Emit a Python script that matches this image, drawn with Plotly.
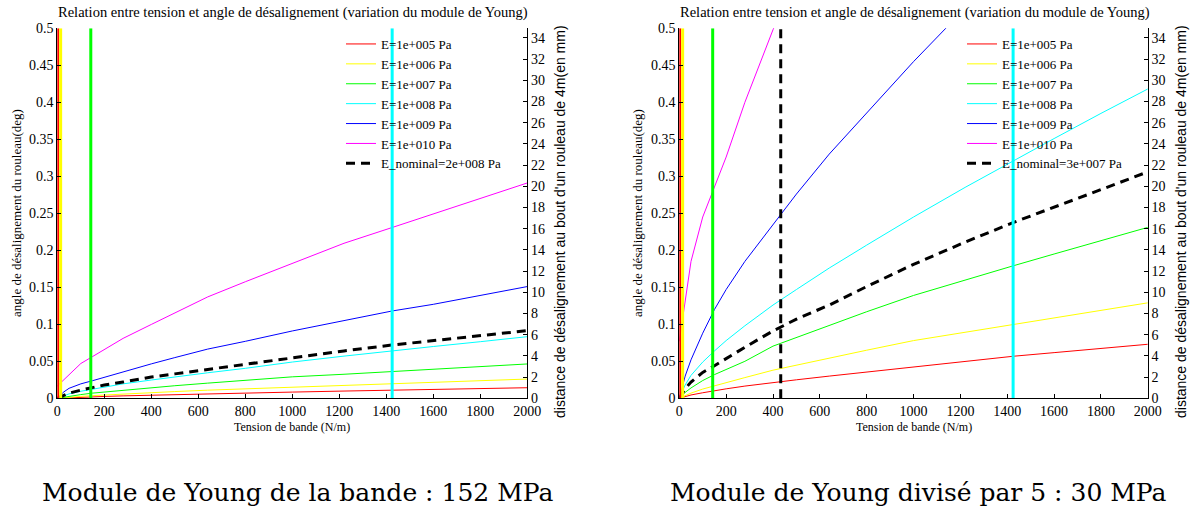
import math
import plotly.graph_objects as go

# ---------------- data ----------------
tension = [0, 25, 50, 100, 150, 200, 280, 400, 500, 640, 800, 1000, 1220, 1425, 1600, 1800, 2000]

module_labels = ["E=1e+005 Pa", "E=1e+006 Pa", "E=1e+007 Pa", "E=1e+008 Pa", "E=1e+009 Pa", "E=1e+010 Pa"]
nominal_label_g = "E_nominal=2e+008 Pa"
nominal_label_d = "E_nominal=3e+007 Pa"

# left panel: Young modulus 152 MPa (angle in deg)
red_g = [0, 0.0004, 0.0008, 0.0014, 0.002, 0.0025, 0.0033, 0.0043, 0.0051, 0.0062, 0.0072, 0.0084, 0.0098, 0.0112, 0.0122, 0.0133, 0.0143]
yellow_g = [0, 0.0008, 0.0015, 0.0026, 0.0036, 0.0045, 0.0058, 0.0076, 0.0091, 0.011, 0.0128, 0.0152, 0.0177, 0.020, 0.022, 0.024, 0.026]
green_g = [0, 0.0015, 0.003, 0.005, 0.007, 0.0085, 0.011, 0.0145, 0.017, 0.0205, 0.024, 0.029, 0.0325, 0.036, 0.039, 0.0425, 0.0464]
cyan_g = [0, 0.0035, 0.006, 0.0095, 0.0125, 0.0155, 0.0195, 0.0247, 0.029, 0.0345, 0.0405, 0.049, 0.057, 0.0643, 0.070, 0.0765, 0.0833]
blue_g = [0, 0.008, 0.0135, 0.0195, 0.0238, 0.0285, 0.036, 0.0465, 0.055, 0.0665, 0.077, 0.091, 0.105, 0.118, 0.127, 0.139, 0.151]
magenta_g = [0.0166, 0.0243, 0.032, 0.047, 0.0564, 0.0658, 0.081, 0.0998, 0.1155, 0.137, 0.1575, 0.1824, 0.2095, 0.2308, 0.2491, 0.2699, 0.291]
nominal_g = [0, 0.004, 0.007, 0.011, 0.0145, 0.018, 0.022, 0.0288, 0.033, 0.039, 0.046, 0.055, 0.064, 0.072, 0.078, 0.085, 0.0914]

# right panel: Young modulus divided by 5 (30 MPa)
red_d = [0, 0.0025, 0.0045, 0.0075, 0.0103, 0.0128, 0.0165, 0.0215, 0.025, 0.03, 0.0355, 0.042, 0.0495, 0.0568, 0.0617, 0.067, 0.073]
yellow_d = [0, 0.004, 0.007, 0.0125, 0.017, 0.0215, 0.028, 0.038, 0.045, 0.054, 0.065, 0.078, 0.089, 0.1, 0.109, 0.119, 0.129]
green_d = [0, 0.008, 0.014, 0.024, 0.032, 0.039, 0.05, 0.0705, 0.082, 0.099, 0.117, 0.139, 0.16, 0.179, 0.195, 0.213, 0.231]
cyan_d = [0, 0.018, 0.031, 0.049, 0.064, 0.078, 0.098, 0.126, 0.147, 0.176, 0.207, 0.245, 0.285, 0.321, 0.351, 0.385, 0.418]
blue_d = [0, 0.03, 0.052, 0.088, 0.12, 0.147, 0.185, 0.235, 0.276, 0.33, 0.385, 0.455, 0.527, None, None, None, None]
magenta_d = [0.077, 0.13, 0.185, 0.245, 0.285, 0.326, 0.40, 0.498, 0.57, None, None, None, None, None, None, None, None]
nominal_d = [0, 0.013, 0.022, 0.035, 0.044, 0.054, 0.069, 0.091, 0.107, 0.126, 0.151, 0.181, 0.211, 0.2375, 0.258, 0.282, 0.306]

# critical tensions (vertical lines)
seuils = [1.425, 14.25, 142.5, 1425]
seuil_nominal_d = 433

colors = ["#ff0000", "#ffff00", "#00ff00", "#00ffff", "#0000ff", "#ff00ff"]

titre = "Relation entre tension et angle de désalignement (variation du module de Young)"
xlabel = "Tension de bande (N/m)"
ylabel_g = "angle de désalignement du rouleau(deg)"
ylabel_d = "distance de désalignement au bout d'un rouleau de 4m(en mm)"
caption_g = "Module de Young de la bande : 152 MPa"
caption_d = "Module de Young divisé par 5 : 30 MPa"

roller_length_mm = 4000
ymax_deg = 0.5
ymax_mm = math.tan(math.radians(ymax_deg)) * roller_length_mm

# ---------------- figure ----------------
W, H = 1192, 509
SERIF = "Liberation Serif"
SANS = "Liberation Sans"

fig = go.Figure()

panels = [
    ("x", "y", "y2", "legend", [red_g, yellow_g, green_g, cyan_g, blue_g, magenta_g], nominal_g, nominal_label_g, None),
    ("x2", "y3", "y4", "legend2", [red_d, yellow_d, green_d, cyan_d, blue_d, magenta_d], nominal_d, nominal_label_d, seuil_nominal_d),
]

for xa, ya, ya_mm, leg, series, nominal, nlabel, vnom in panels:
    for name, vals, col in zip(module_labels, series, colors):
        fig.add_trace(go.Scatter(x=tension, y=vals, mode="lines", name=name,
                                 line=dict(color=col, width=1), xaxis=xa, yaxis=ya,
                                 legend=leg, connectgaps=False))
    fig.add_trace(go.Scatter(x=tension, y=nominal, mode="lines", name=nlabel,
                             line=dict(color="black", width=3, dash="9px,6px"),
                             xaxis=xa, yaxis=ya, legend=leg))
    # same nominal curve expressed in mm on the secondary axis (transparent, carries the mm axis)
    nominal_mm = [math.tan(math.radians(v)) * roller_length_mm for v in nominal]
    fig.add_trace(go.Scatter(x=tension, y=nominal_mm, mode="lines",
                             line=dict(color="rgba(0,0,0,0)", width=0),
                             xaxis=xa, yaxis=ya_mm, showlegend=False, hoverinfo="skip"))
    # vertical threshold lines
    for s, col in zip(seuils, colors):
        fig.add_trace(go.Scatter(x=[s, s], y=[0, ymax_deg], mode="lines",
                                 line=dict(color=col, width=3), xaxis=xa, yaxis=ya,
                                 showlegend=False, hoverinfo="skip"))
    if vnom is not None:
        fig.add_trace(go.Scatter(x=[vnom, vnom], y=[0, ymax_deg], mode="lines",
                                 line=dict(color="black", width=3, dash="9px,6px"),
                                 xaxis=xa, yaxis=ya, showlegend=False, hoverinfo="skip"))

def px_x(p):
    return p / W

def px_y(p):
    return 1 - p / H

dom_g = [px_x(57.3), px_x(527.3)]
dom_d = [px_x(679.3), px_x(1147.8)]
dom_y = [px_y(398.3), px_y(28.3)]

tickfont = dict(family=SERIF, size=14, color="black")
base = dict(ticks="inside", ticklen=4, showline=True, linecolor="black", linewidth=1,
            tickcolor="black", showgrid=False, zeroline=False, tickfont=tickfont,
            automargin=False)
common_x = dict(range=[0, 2000], dtick=200, tick0=0, **base)
common_y = dict(range=[0, ymax_deg], dtick=0.05, tick0=0, **base)
common_y2 = dict(range=[0, ymax_mm], dtick=2, tick0=0, side="right", **base)

fig.update_layout(
    width=W, height=H,
    margin=dict(l=0, r=0, t=0, b=0, pad=0, autoexpand=False),
    paper_bgcolor="white", plot_bgcolor="white",
    xaxis=dict(domain=dom_g, anchor="y", **common_x),
    yaxis=dict(domain=dom_y, anchor="x", **common_y),
    yaxis2=dict(domain=dom_y, anchor="x", overlaying="y", **common_y2),
    xaxis2=dict(domain=dom_d, anchor="y3", **common_x),
    yaxis3=dict(domain=dom_y, anchor="x2", **common_y),
    yaxis4=dict(domain=dom_y, anchor="x2", overlaying="y3", **common_y2),
    legend=dict(x=px_x(341), y=px_y(29), xanchor="left", yanchor="top",
                bgcolor="rgba(0,0,0,0)", font=dict(family=SERIF, size=13, color="black")),
    legend2=dict(x=px_x(962), y=px_y(29), xanchor="left", yanchor="top",
                 bgcolor="rgba(0,0,0,0)", font=dict(family=SERIF, size=13, color="black")),
    showlegend=True,
)

annots = []
for cx, ylx, yrx, cap in [((57.3 + 527.3) / 2, 16, 560, caption_g),
                          ((679.3 + 1147.8) / 2, 637, 1181, caption_d)]:
    annots.append(dict(text=titre, x=px_x(cx + 1), y=px_y(12), xref="paper", yref="paper",
                       showarrow=False, xanchor="center", yanchor="middle",
                       font=dict(family=SERIF, size=14.5, color="black")))
    annots.append(dict(text=xlabel, x=px_x(cx), y=px_y(427), xref="paper", yref="paper",
                       showarrow=False, xanchor="center", yanchor="middle",
                       font=dict(family=SERIF, size=12, color="black")))
    annots.append(dict(text=ylabel_g, x=px_x(ylx), y=px_y(213), xref="paper", yref="paper",
                       showarrow=False, xanchor="center", yanchor="middle", textangle=-90,
                       font=dict(family=SERIF, size=13, color="black")))
    annots.append(dict(text=ylabel_d, x=px_x(yrx), y=px_y(222), xref="paper", yref="paper",
                       showarrow=False, xanchor="center", yanchor="middle", textangle=-90,
                       font=dict(family=SANS, size=14, color="black")))
    annots.append(dict(text=cap, x=px_x(cx + 5), y=px_y(492), xref="paper", yref="paper",
                       showarrow=False, xanchor="center", yanchor="middle",
                       font=dict(family="DejaVu Serif", size=25, color="black")))
fig.update_layout(annotations=annots)

fig.write_html("out.html", config={"displayModeBar": False},
               post_script="document.body.style.margin='0';")
